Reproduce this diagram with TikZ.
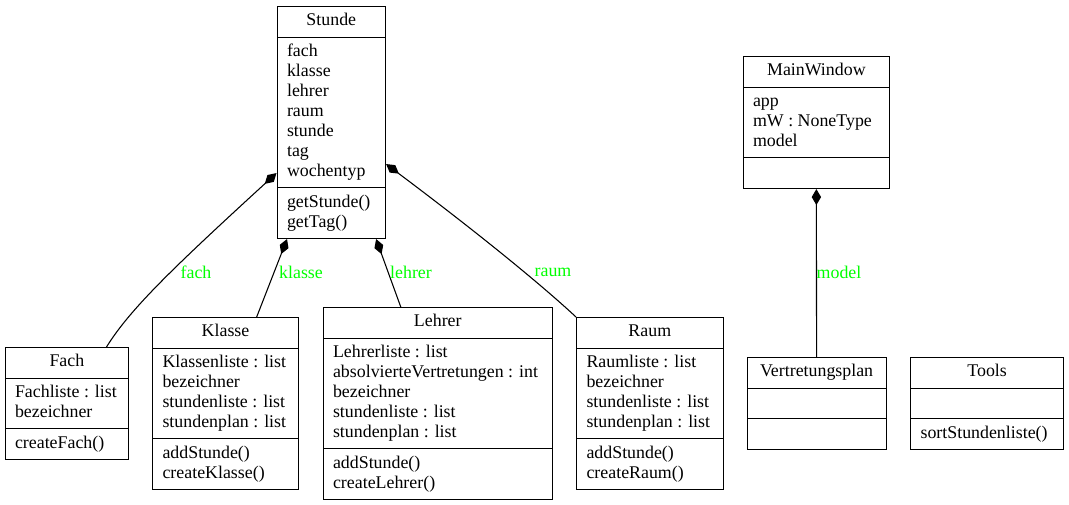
\documentclass[tikz,border=0pt]{standalone}
\usepackage{fontspec}
\setmainfont{Liberation Serif}
\usetikzlibrary{shapes.multipart,arrows.meta}

\tikzset{
	klasse/.style={rectangle split, rectangle split parts=3, draw, line width=0.8pt,
		anchor=north west, align=left, rectangle split part align={center,left,left},
		inner xsep=7.5pt, inner ysep=3.6pt, font=\fontsize{13.4}{15}\selectfont},
	rolle/.style={text={rgb,255:red,0;green,255;blue,0}, font=\fontsize{13.4}{15}\selectfont, inner sep=0pt},
	komp/.style={{Diamond[length=12pt,width=7pt]}-, line width=0.8pt}
}

\begin{document}
\begin{tikzpicture}[x=0.75pt, y=-0.75pt]
	\useasboundingbox (0,0) rectangle (1069,505);

	\node[klasse, minimum width=81.4pt] (stunde) at (276.5,6)
		{\strut Stunde
		\nodepart{second}\strut fach\\\strut klasse\\\strut lehrer\\\strut raum\\\strut stunde\\\strut tag\\\strut wochentyp
		\nodepart{third}\strut getStunde()\\\strut getTag()};
	\node[klasse, minimum width=92.8pt] (fach) at (4.5,347)
		{\strut Fach
		\nodepart{second}\strut Fachliste : list\\\strut bezeichner
		\nodepart{third}\strut createFach()};
	\node[klasse, minimum width=109.5pt] (klasse) at (152,317)
		{\strut Klasse
		\nodepart{second}\strut Klassenliste : list\\\strut bezeichner\\\strut stundenliste : list\\\strut stundenplan : list
		\nodepart{third}\strut addStunde()\\\strut createKlasse()};
	\node[klasse, minimum width=172.1pt] (lehrer) at (322.5,307)
		{\strut Lehrer
		\nodepart{second}\strut Lehrerliste : list\\\strut absolvierteVertretungen : int\\\strut bezeichner\\\strut stundenliste : list\\\strut stundenplan : list
		\nodepart{third}\strut addStunde()\\\strut createLehrer()};
	\node[klasse, minimum width=109.9pt] (raum) at (576,317)
		{\strut Raum
		\nodepart{second}\strut Raumliste : list\\\strut bezeichner\\\strut stundenliste : list\\\strut stundenplan : list
		\nodepart{third}\strut addStunde()\\\strut createRaum()};
	\node[klasse, minimum width=110pt] (mainwindow) at (742.5,56)
		{\strut MainWindow
		\nodepart{second}\strut app\\\strut mW : NoneType\\\strut model
		\nodepart{third}\strut};
	\node[klasse, minimum width=104.3pt] (vplan) at (746.5,357)
		{\strut Vertretungsplan
		\nodepart{second}\strut
		\nodepart{third}\strut};
	\node[klasse, minimum width=114.9pt] (tools) at (910,357)
		{\strut Tools
		\nodepart{second}\strut
		\nodepart{third}\strut sortStundenliste()};

	% Kompositionen
	\draw[komp] ([yshift=49.5pt]stunde.south west) .. controls +(-107,98) and +(23,-37) .. ([xshift=76.5pt]fach.north west);
	\draw[komp] ([xshift=7.9pt]stunde.south west) -- ([xshift=78.5pt]klasse.north west);
	\draw[komp] ([xshift=-7.5pt]stunde.south east) -- ([xshift=58.7pt]lehrer.north west);
	\draw[komp] ([yshift=56.25pt]stunde.south east) .. controls +(100,75) and +(-30,-28) .. (raum.north west);
	\draw[komp] (mainwindow.south) -- (vplan.north);

	\node[rolle] (lfach) at (196,272) {fach};
	\node[rolle] (lklasse) at (301,272) {klasse};
	\node[rolle] (llehrer) at (411,272) {lehrer};
	\node[rolle] (lraum) at (553,272) {raum};
	\node[rolle] (lmodel) at (839,272) {model};
\end{tikzpicture}
\end{document}
